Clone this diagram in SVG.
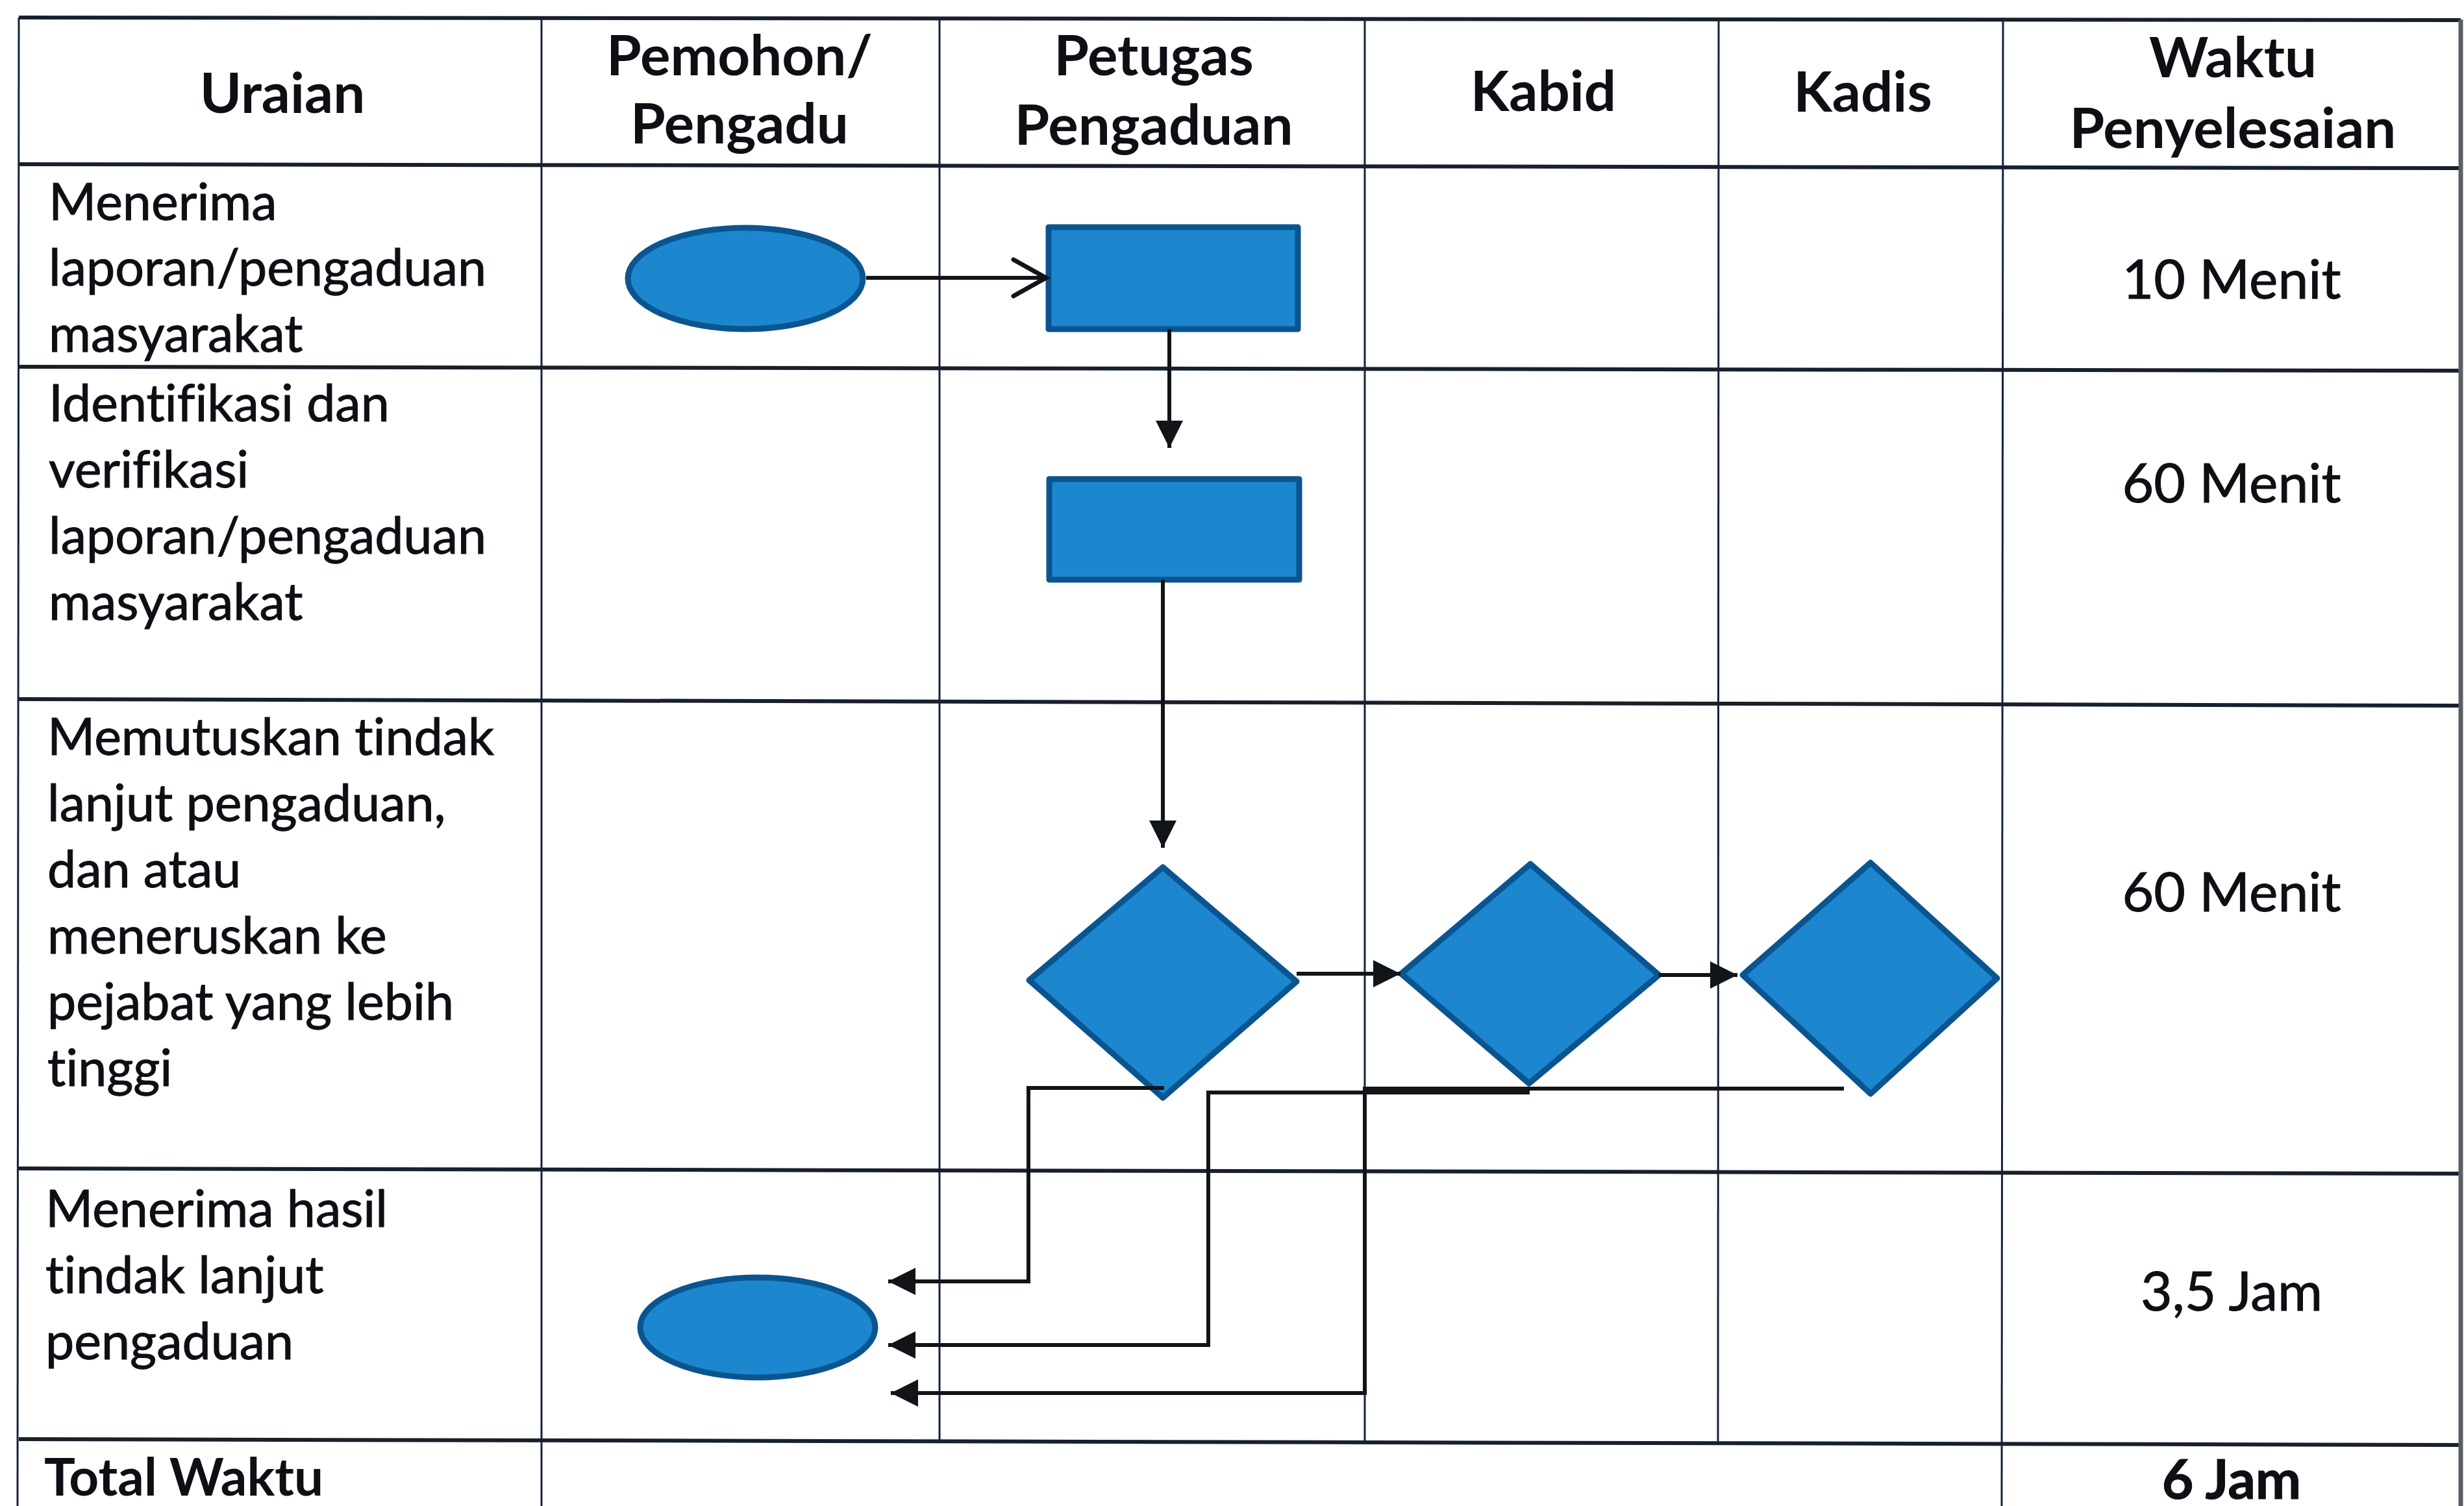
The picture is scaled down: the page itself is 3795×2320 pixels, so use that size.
<svg xmlns="http://www.w3.org/2000/svg" width="3795" height="2320" viewBox="0 0 3795 2320">
<style>
.bg{fill:#ffffff}
.hl{stroke:#17202c;stroke-width:6;fill:none}
.vl{stroke:#14233a;stroke-width:3;fill:none}
.edge{stroke:#5a5f66;stroke-width:7;fill:none}
.shape{fill:#1c87cf;stroke:#0a5590;stroke-width:9;stroke-linejoin:round}
.conn{stroke:#111418;stroke-width:6;fill:none}
text{font-variant-ligatures:none;font-feature-settings:"liga" 0}
.hdr{font-family:Lato,"Liberation Sans",sans-serif;font-weight:bold;font-size:87px;fill:#0d0f14;text-anchor:middle}
.body{font-family:Lato,"Liberation Sans",sans-serif;font-size:79px;fill:#0d0f14;stroke:#0d0f14;stroke-width:1}
.time{font-family:Lato,"Liberation Sans",sans-serif;font-size:84px;fill:#0d0f14;stroke:#0d0f14;stroke-width:1;text-anchor:middle}
.tot{font-family:Lato,"Liberation Sans",sans-serif;font-weight:bold;font-size:80px;fill:#0d0f14}
</style>
<defs>
<marker id="tri" markerUnits="userSpaceOnUse" markerWidth="44" markerHeight="44" refX="42" refY="21" orient="auto" overflow="visible">
<path d="M0,0 L42,21 L0,42 Z" fill="#111418"/>
</marker>
<marker id="open" markerUnits="userSpaceOnUse" markerWidth="60" markerHeight="64" refX="52" refY="30" orient="auto" overflow="visible">
<path d="M2,2 L52,30 L2,58" fill="none" stroke="#111418" stroke-width="7" stroke-linecap="round" stroke-linejoin="miter"/>
</marker>
</defs>
<rect class="bg" x="0" y="0" width="3795" height="2320"/>

<g id="table">
<line class="hl" x1="29" y1="27" x2="3790" y2="31"/>
<line class="hl" x1="29" y1="253" x2="3790" y2="259"/>
<line class="hl" x1="29" y1="565" x2="3790" y2="571"/>
<line class="hl" x1="29" y1="1077" x2="3790" y2="1087"/>
<line class="hl" x1="29" y1="1800" x2="3790" y2="1808"/>
<line class="hl" x1="29" y1="2217" x2="3790" y2="2226"/>
<line class="vl" x1="29" y1="27" x2="27" y2="2320"/>
<line class="vl" x1="834" y1="27" x2="834" y2="2320"/>
<line class="vl" x1="1447" y1="28" x2="1447" y2="2220"/>
<line class="vl" x1="2102" y1="28" x2="2102" y2="2222"/>
<line class="vl" x1="2647" y1="29" x2="2646" y2="2223"/>
<line class="vl" x1="3085" y1="29" x2="3083" y2="2320"/>
<line class="edge" x1="3790" y1="30" x2="3790" y2="2320"/>
</g>

<g id="header">
<text class="hdr" x="435" y="174">Uraian</text>
<text class="hdr" x="1139" y="116">Pemohon/</text>
<text class="hdr" x="1139" y="221">Pengadu</text>
<text class="hdr" x="1777" y="116">Petugas</text>
<text class="hdr" x="1777" y="223">Pengaduan</text>
<text class="hdr" x="2377" y="171">Kabid</text>
<text class="hdr" x="2869" y="172">Kadis</text>
<text class="hdr" x="3439" y="119">Waktu</text>
<text class="hdr" x="3439" y="228">Penyelesaian</text>
</g>

<g id="row-labels">
<text class="body" x="75" y="339">Menerima</text>
<text class="body" x="75" y="440">laporan/pengaduan</text>
<text class="body" x="75" y="542">masyarakat</text>
<text class="body" x="75" y="649">Identifikasi dan</text>
<text class="body" x="75" y="751">verifikasi</text>
<text class="body" x="75" y="853">laporan/pengaduan</text>
<text class="body" x="75" y="955">masyarakat</text>
<text class="body" x="73" y="1163">Memutuskan tindak</text>
<text class="body" x="73" y="1265">lanjut pengaduan,</text>
<text class="body" x="73" y="1367">dan atau</text>
<text class="body" x="73" y="1469">meneruskan ke</text>
<text class="body" x="73" y="1571">pejabat yang lebih</text>
<text class="body" x="73" y="1673">tinggi</text>
<text class="body" x="70" y="1890">Menerima hasil</text>
<text class="body" x="70" y="1992">tindak lanjut</text>
<text class="body" x="70" y="2094">pengaduan</text>
<text class="tot" x="68" y="2304">Total Waktu</text>
</g>

<g id="times">
<text class="time" x="3437" y="460">10 Menit</text>
<text class="time" x="3437" y="774">60 Menit</text>
<text class="time" x="3437" y="1404">60 Menit</text>
<text class="time" x="3437" y="2019">3,5 Jam</text>
<text class="time" x="3437" y="2309" font-weight="bold">6 Jam</text>
</g>

<g id="node-start">
<ellipse class="shape" cx="1148" cy="429" rx="181" ry="78"/>
</g>
<g id="node-receive">
<rect class="shape" x="1615" y="350" width="384" height="157"/>
</g>
<g id="node-verify">
<rect class="shape" x="1616" y="738" width="385" height="155"/>
</g>
<g id="node-decide-petugas">
<polygon class="shape" points="1791,1336 1997,1512 1791,1691 1585,1510"/>
</g>
<g id="node-decide-kabid">
<polygon class="shape" points="2357,1331 2555,1502 2355,1669 2158,1500"/>
</g>
<g id="node-decide-kadis">
<polygon class="shape" points="2881,1329 3076,1507 2881,1685 2684,1502"/>
</g>
<g id="node-end">
<ellipse class="shape" cx="1167" cy="2045" rx="181" ry="77"/>
</g>

<g id="connectors">
<line class="conn" x1="1334" y1="428" x2="1611" y2="428" marker-end="url(#open)"/>
<line class="conn" x1="1801" y1="507" x2="1801" y2="690" marker-end="url(#tri)"/>
<line class="conn" x1="1791" y1="893" x2="1791" y2="1306" marker-end="url(#tri)"/>
<line class="conn" x1="1997" y1="1500" x2="2157" y2="1500" marker-end="url(#tri)"/>
<line class="conn" x1="2555" y1="1502" x2="2676" y2="1502" marker-end="url(#tri)"/>
<polyline class="conn" points="1793,1676 1584,1676 1584,1974 1368,1974" marker-end="url(#tri)"/>
<polyline class="conn" points="2356,1683 1861,1683 1861,2072 1368,2072" marker-end="url(#tri)"/>
<polyline class="conn" points="2840,1677 2102,1677 2102,2146 1372,2146" marker-end="url(#tri)"/>
</g>
</svg>
